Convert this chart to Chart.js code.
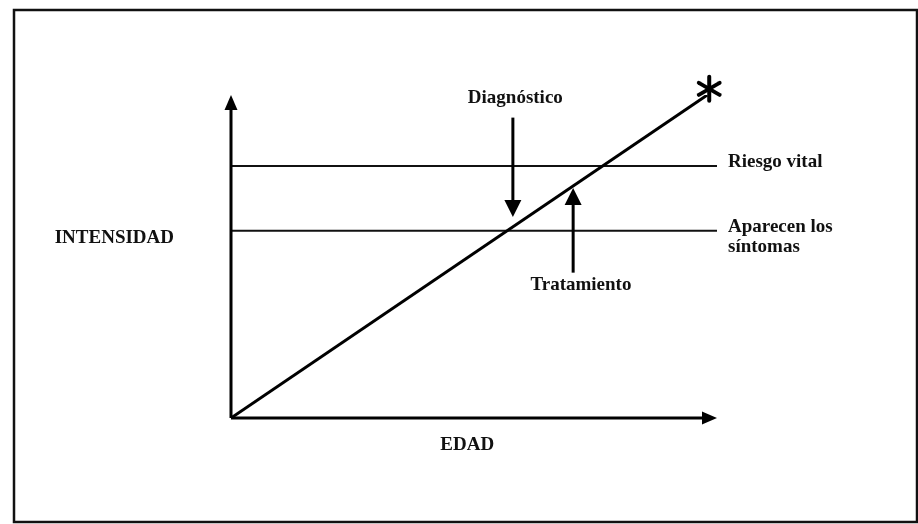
<!DOCTYPE html>
<html>
<head>
<meta charset="utf-8">
<script src="https://cdn.jsdelivr.net/npm/chart.js@4/dist/chart.umd.min.js"></script>
<style>
  html, body { margin: 0; padding: 0; background: #fff; }
  #wrap { width: 918px; height: 524px; position: relative; }
</style>
</head>
<body>
<div id="wrap"><canvas id="c" width="918" height="524"></canvas></div>
<script>
// ---- data (scale units: EDAD 0..100, INTENSIDAD 0..100) ----
const diagonalLine = [{x: 0, y: 0}, {x: 98, y: 100}];
const thresholdNames = ['Riesgo vital', 'Aparecen los síntomas'];
const thresholdLevels = [78, 58];
const thresholdLabelLines = [['Riesgo vital'], ['Aparecen los', 'síntomas']];
const axisArrows = [
  {from: [0, 0], to: [0, 100], width: 3, head: [15, 13]},
  {from: [0, 0], to: [100, 0], width: 3, head: [15, 13]}
];
const eventNames = ['Diagnóstico', 'Tratamiento'];
const eventX = [58, 70.4];
const eventFromY = [93, 45];
const eventToY = [62.2, 71.2];
const eventLabelY = [99, 41];
const eventLabelX = [58.5, 72];
const axisTitles = [
  {text: 'INTENSIDAD', x: -24, y: 55.7},
  {text: 'EDAD', x: 48.6, y: -8.4}
];
const endMarker = {x: 98.4, y: 101.9};

const FONT = 'bold 19px "Liberation Serif", "DejaVu Serif", serif';

function arrow(ctx, x1, y1, x2, y2, w, hl, hw) {
  const ang = Math.atan2(y2 - y1, x2 - x1);
  const bx = x2 - Math.cos(ang) * hl, by = y2 - Math.sin(ang) * hl;
  ctx.save();
  ctx.strokeStyle = '#000'; ctx.fillStyle = '#000';
  ctx.lineWidth = w; ctx.lineCap = 'butt';
  ctx.beginPath(); ctx.moveTo(x1, y1); ctx.lineTo(bx, by); ctx.stroke();
  ctx.beginPath();
  ctx.moveTo(x2, y2);
  ctx.lineTo(bx + Math.sin(ang) * hw / 2, by - Math.cos(ang) * hw / 2);
  ctx.lineTo(bx - Math.sin(ang) * hw / 2, by + Math.cos(ang) * hw / 2);
  ctx.closePath(); ctx.fill();
  ctx.restore();
}

const framePlugin = {
  id: 'frame',
  beforeDraw(chart) {
    const ctx = chart.ctx;
    ctx.save();
    ctx.fillStyle = '#fff';
    ctx.fillRect(0, 0, chart.width, chart.height);
    ctx.strokeStyle = '#111'; ctx.lineWidth = 2.5;
    ctx.strokeRect(14, 10, 903, 512);
    ctx.restore();
  }
};

const annotPlugin = {
  id: 'annot',
  afterDatasetsDraw(chart) {
    const ctx = chart.ctx;
    const xs = chart.scales.x, ys = chart.scales.y;
    const px = v => xs.getPixelForValue(v), py = v => ys.getPixelForValue(v);
    // axes
    axisArrows.forEach(a => arrow(ctx, px(a.from[0]), py(a.from[1]), px(a.to[0]), py(a.to[1]), a.width, a.head[0], a.head[1]));
    // event arrows
    eventNames.forEach((n, i) => arrow(ctx, px(eventX[i]), py(eventFromY[i]), px(eventX[i]), py(eventToY[i]), 3, 17, 17));
    ctx.save();
    ctx.fillStyle = '#111';
    ctx.font = FONT;
    ctx.textBaseline = 'middle';
    // event labels
    ctx.textAlign = 'center';
    eventNames.forEach((n, i) => ctx.fillText(n, px(eventLabelX[i]), py(eventLabelY[i])));
    // threshold labels
    ctx.textAlign = 'left';
    thresholdLabelLines.forEach((lines, i) => {
      lines.forEach((t, j) => ctx.fillText(t, px(100) + 11, py(thresholdLevels[i]) - 4 + j * 20));
    });
    // axis titles
    ctx.textAlign = 'center';
    axisTitles.forEach(a => ctx.fillText(a.text, px(a.x), py(a.y)));
    // end asterisk
    const cx = px(endMarker.x), cy = py(endMarker.y), r = 12;
    ctx.strokeStyle = '#000'; ctx.lineWidth = 4; ctx.lineCap = 'round';
    for (let k = 0; k < 3; k++) {
      const a = Math.PI / 2 + k * Math.PI / 3;
      ctx.beginPath();
      ctx.moveTo(cx + Math.cos(a) * r, cy + Math.sin(a) * r);
      ctx.lineTo(cx - Math.cos(a) * r, cy - Math.sin(a) * r);
      ctx.stroke();
    }
    ctx.restore();
  }
};

const datasets = [
  {label: 'Intensidad', data: diagonalLine, borderColor: '#000', borderWidth: 3, pointRadius: 0, showLine: true, fill: false}
].concat(thresholdLevels.map((lv, i) => ({
  label: thresholdNames[i],
  data: [{x: 0, y: lv}, {x: 100, y: lv}],
  borderColor: '#111', borderWidth: 2, pointRadius: 0, showLine: true, fill: false
})));

new Chart(document.getElementById('c'), {
  type: 'scatter',
  data: {datasets},
  options: {
    responsive: false,
    animation: false,
    layout: {padding: {left: 231, top: 95, right: 201, bottom: 106}},
    plugins: {legend: {display: false}, tooltip: {enabled: false}},
    scales: {
      x: {type: 'linear', min: 0, max: 100, display: false},
      y: {type: 'linear', min: 0, max: 100, display: false}
    },
    elements: {line: {tension: 0}}
  },
  plugins: [framePlugin, annotPlugin]
});
</script>
</body>
</html>
